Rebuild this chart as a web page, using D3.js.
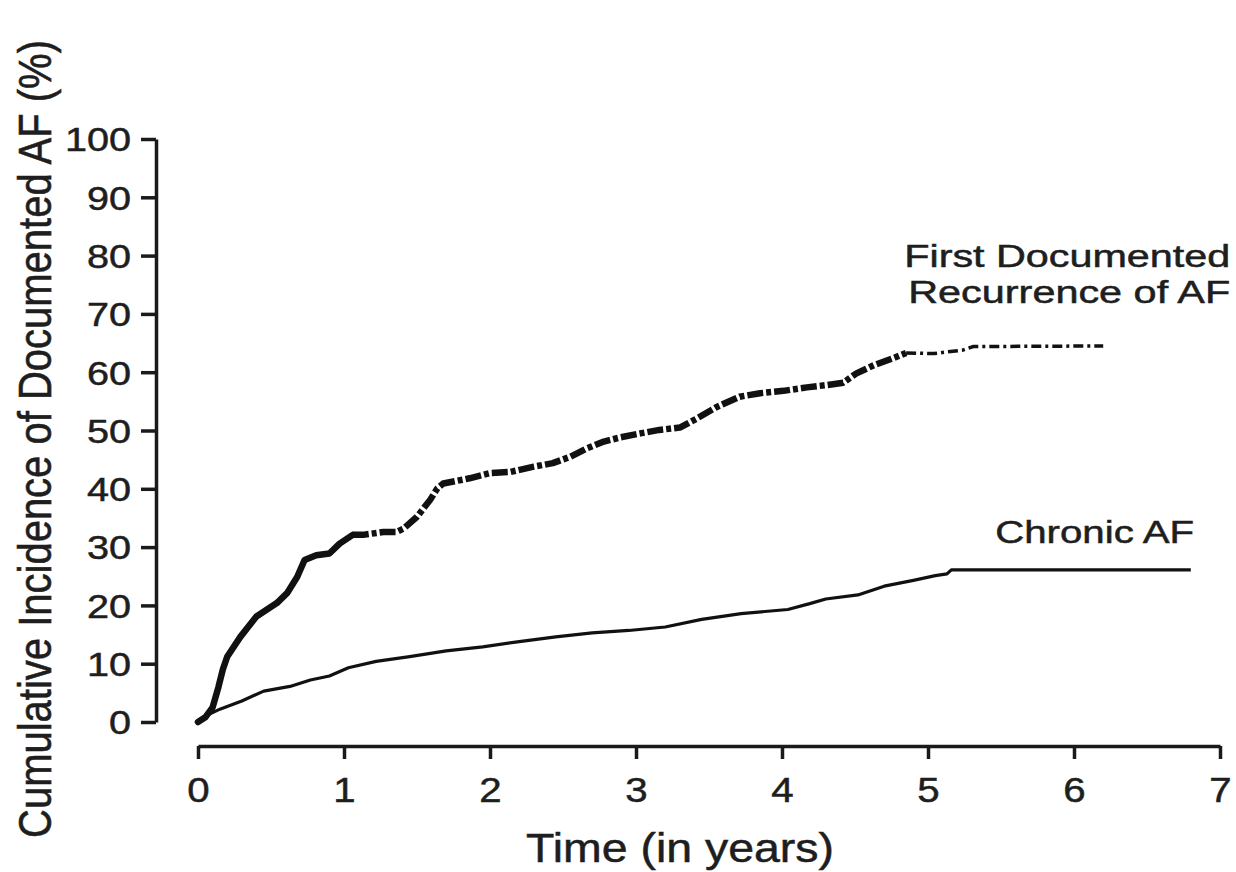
<!DOCTYPE html>
<html>
<head>
<meta charset="utf-8">
<script src="https://cdn.jsdelivr.net/npm/d3@7"></script>
<style>
  body { margin: 0; background: #fff; }
  text { font-family: "Liberation Sans", Arial, sans-serif; fill: #1e1e1e; stroke: #1e1e1e; stroke-width: 0.5px; }
</style>
</head>
<body>
<svg id="chart" width="1236" height="872"></svg>
<script>
// cumulative incidence curves (time in years, %)
var recurT = [0, 0.05, 0.1, 0.14, 0.17, 0.2, 0.29, 0.4, 0.54, 0.61, 0.68, 0.73, 0.81, 0.9, 0.97, 1.06, 1.13, 1.27, 1.36, 1.41, 1.5, 1.59, 1.64, 1.68, 1.86, 2.0, 2.14, 2.3, 2.43, 2.55, 2.66, 2.78, 2.89, 3.03, 3.16, 3.3, 3.42, 3.55, 3.71, 3.85, 4.01, 4.17, 4.31, 4.42, 4.51, 4.63, 4.76, 4.85, 5.04, 5.24, 5.31, 6.2];
var recurV = [0, 0.8, 2.5, 6, 9, 11.2, 14.6, 18.1, 20.4, 22.1, 24.9, 27.8, 28.6, 28.9, 30.6, 32.1, 32.1, 32.6, 32.6, 33.2, 35.2, 38.1, 40.1, 40.9, 41.8, 42.7, 42.9, 43.8, 44.4, 45.5, 46.9, 48.1, 48.8, 49.5, 50.1, 50.5, 52.1, 54, 55.8, 56.4, 56.8, 57.4, 57.8, 58.2, 59.8, 61.2, 62.4, 63.3, 63.2, 63.8, 64.4, 64.5];

var chronicT = [0, 0.05, 0.15, 0.3, 0.45, 0.63, 0.77, 0.9, 1.03, 1.22, 1.45, 1.7, 1.95, 2.2, 2.45, 2.7, 2.95, 3.2, 3.45, 3.72, 4.04, 4.19, 4.3, 4.52, 4.7, 4.9, 5.05, 5.13, 5.16, 6.8];
var chronicV = [0, 1.0, 2.2, 3.6, 5.3, 6.1, 7.2, 7.9, 9.3, 10.4, 11.2, 12.2, 12.9, 13.8, 14.6, 15.3, 15.7, 16.3, 17.6, 18.6, 19.3, 20.3, 21.1, 21.8, 23.3, 24.3, 25.1, 25.4, 26.1, 26.1];

var xTicks = [0, 1, 2, 3, 4, 5, 6, 7];
var yTicks = [0, 10, 20, 30, 40, 50, 60, 70, 80, 90, 100];

var svg = d3.select("#chart");

var x = d3.scaleLinear().domain([0, 7]).range([198, 1220]);
var y = d3.scaleLinear().domain([0, 100]).range([722, 139]);

var line = d3.line()
  .x(function(d) { return x(d.t); })
  .y(function(d) { return y(d.v); });

function zipData(ts, vs) {
  return ts.map(function(t, i) { return {t: t, v: vs[i]}; });
}

var recur = zipData(recurT, recurV),
    chronic = zipData(chronicT, chronicV);

// stretch text horizontally (the original figure is wider than tall)
function stretch(sel, sx) {
  sel.each(function() {
    var w = this.getComputedTextLength();
    d3.select(this).attr("textLength", w * sx).attr("lengthAdjust", "spacingAndGlyphs");
  });
}

/* Axes */

var yAxis = svg.append("g")
  .attr("transform", "translate(156,0)")
  .call(d3.axisLeft(y).tickValues(yTicks).tickFormat(d3.format("d"))
    .tickSize(15).tickSizeOuter(0).tickPadding(10));

var xAxis = svg.append("g")
  .attr("transform", "translate(0,746)")
  .call(d3.axisBottom(x).tickValues(xTicks).tickFormat(d3.format("d"))
    .tickSize(13).tickSizeOuter(0).tickPadding(18));

[yAxis, xAxis].forEach(function(ax) {
  ax.select(".domain").attr("stroke", "#1a1a1a").attr("stroke-width", 3.5);
  ax.selectAll(".tick line").attr("stroke", "#1a1a1a").attr("stroke-width", 3.5);
  ax.selectAll("text").attr("fill", "#1e1e1e").style("font-family", "Liberation Sans, Arial, sans-serif");
});

yAxis.selectAll("text").attr("font-size", 33).attr("dy", "0.36em");
xAxis.selectAll("text").attr("font-size", 35);
stretch(yAxis.selectAll("text"), 1.2);
stretch(xAxis.selectAll("text"), 1.15);

/* Titles */

svg.append("text")
  .attr("x", 680)
  .attr("y", 862)
  .attr("text-anchor", "middle")
  .attr("font-size", 40)
  .attr("textLength", 308)
  .attr("lengthAdjust", "spacingAndGlyphs")
  .text("Time (in years)");

svg.append("text")
  .attr("transform", "translate(51,439) scale(1.22,1) rotate(-90)")
  .attr("text-anchor", "middle")
  .attr("font-size", 38)
  .attr("textLength", 798)
  .attr("lengthAdjust", "spacingAndGlyphs")
  .text("Cumulative Incidence of Documented AF (%)");

/* Curves */

// chronic AF, thin solid
svg.append("path")
  .datum(chronic)
  .attr("fill", "none")
  .attr("stroke", "#111")
  .attr("stroke-width", 3.2)
  .attr("stroke-linejoin", "round")
  .attr("d", line);

// first recurrence: solid early part, dashed middle, thin dash-dot tail
svg.append("path")
  .datum(recur.filter(function(d) { return d.t <= 1.06; }))
  .attr("fill", "none")
  .attr("stroke", "#111")
  .attr("stroke-width", 6.5)
  .attr("stroke-linejoin", "round")
  .attr("stroke-linecap", "round")
  .attr("d", line);

svg.append("path")
  .datum(recur.filter(function(d) { return d.t >= 1.06 && d.t <= 4.85; }))
  .attr("fill", "none")
  .attr("stroke", "#111")
  .attr("stroke-width", 6.5)
  .attr("stroke-linejoin", "round")
  .attr("stroke-dasharray", "16,3,5,3")
  .attr("d", line);

svg.append("path")
  .datum(recur.filter(function(d) { return d.t >= 4.85; }))
  .attr("fill", "none")
  .attr("stroke", "#111")
  .attr("stroke-width", 3.5)
  .attr("stroke-dasharray", "10,4,3,4")
  .attr("d", line);

/* Curve labels */

svg.append("text")
  .attr("x", x(7.07))
  .attr("y", 267)
  .attr("text-anchor", "end")
  .attr("font-size", 31)
  .attr("textLength", 326)
  .attr("lengthAdjust", "spacingAndGlyphs")
  .text("First Documented");

svg.append("text")
  .attr("x", x(7.07))
  .attr("y", 303)
  .attr("text-anchor", "end")
  .attr("font-size", 31)
  .attr("textLength", 322)
  .attr("lengthAdjust", "spacingAndGlyphs")
  .text("Recurrence of AF");

svg.append("text")
  .attr("x", x(5.46))
  .attr("y", 543)
  .attr("font-size", 32)
  .attr("textLength", 199)
  .attr("lengthAdjust", "spacingAndGlyphs")
  .text("Chronic AF");
</script>
</body>
</html>
